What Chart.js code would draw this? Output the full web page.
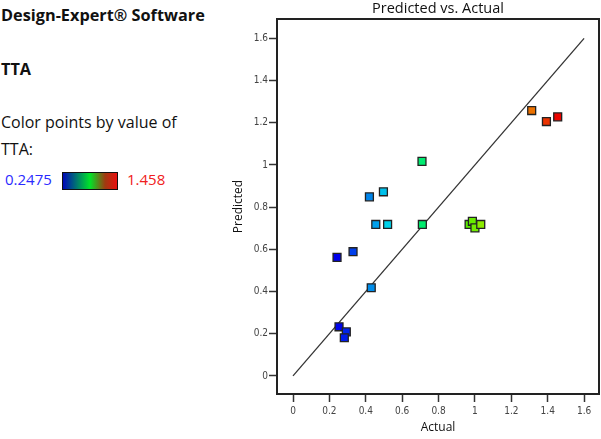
<!DOCTYPE html>
<html lang="en">
<head>
  <meta charset="UTF-8">
  <title>Predicted vs. Actual</title>
  <script src="https://cdn.jsdelivr.net/npm/chart.js"></script>
  <style>
    body { margin: 0; background: #fff; font-family: "Open Sans", sans-serif; }
    .page { position: relative; width: 601px; height: 439px; overflow: hidden; }
    .info { position: absolute; left: 0; top: 0; width: 220px; color: #111; }
    .info .t { position: absolute; left: 1px; white-space: nowrap; }
    .bold { font-weight: bold; }
    .grad { position: absolute; left: 62px; top: 172px; width: 54px; height: 16px;
            border: 1px solid #111; background: linear-gradient(to right, #0008b8, #00e428 50%, #a03a10 78%, #e81010); }
    .chart-box { position: absolute; left: 220px; top: 0; width: 381px; height: 439px; }
  </style>
</head>
<body>
<div class="page">
  <!-- left-hand info panel -->
  <div class="info">
    <div class="t bold" style="top:4px;font-size:16.3px;">Design-Expert&reg; Software</div>
    <div class="t bold" style="top:58px;font-size:16.3px;">TTA</div>
    <div class="t" style="top:111px;font-size:16px;">Color points by value of</div>
    <div class="t" style="top:138px;font-size:16px;">TTA:</div>
    <div class="t" style="top:169px;left:5px;font-size:15px;color:#2b2bff;">0.2475</div>
    <div class="grad"></div>
    <div class="t" style="top:169px;left:127px;font-size:15px;color:#f02020;">1.458</div>
  </div>

  <div class="chart-box">
    <canvas id="graph" width="381" height="439"></canvas>
  </div>
</div>

<script>
  // TTA values: actual vs. predicted
  const actual    = [0.242, 0.330, 0.430, 0.253, 0.293, 0.282, 0.455, 0.520, 0.711, 0.968, 0.986, 1.000, 1.032, 0.420, 0.497, 0.709, 1.312, 1.393, 1.455];
  const predicted = [0.562, 0.589, 0.418, 0.233, 0.209, 0.181, 0.718, 0.718, 0.718, 0.718, 0.733, 0.702, 0.718, 0.849, 0.873, 1.017, 1.258, 1.206, 1.228];
  const ttaMin = 0.2475;
  const ttaMax = 1.458;
  const tickValues = [0, 0.2, 0.4, 0.6, 0.8, 1, 1.2, 1.4, 1.6];
  const refLine = [0, 1.6];

  // colour by value of TTA: blue -> green -> red
  function colorFor(v) {
    let t = (v - ttaMin) / (ttaMax - ttaMin);
    t = Math.max(0, Math.min(1, t));
    return 'hsl(' + (240 * (1 - t)).toFixed(0) + ', 100%, 46%)';
  }

  const points = actual.map((a, i) => ({ x: a, y: predicted[i] }));
  const colors = actual.map(colorFor);

  // frame round the plot area
  const framePlugin = {
    id: 'frame',
    afterDraw(chart) {
      const a = chart.chartArea;
      const ctx = chart.ctx;
      ctx.save();
      ctx.strokeStyle = '#222';
      ctx.lineWidth = 2;
      ctx.strokeRect(a.left, a.top, a.right - a.left, a.bottom - a.top);
      ctx.restore();
    }
  };

  const tickFont = { family: "'Liberation Sans Narrow', 'DejaVu Sans Condensed', 'Liberation Sans', sans-serif", size: 10 };
  const setTicks = (s) => { s.ticks = tickValues.map(v => ({ value: v })); };
  const fmt = (v) => String(+Number(v).toFixed(2));

  new Chart(document.getElementById('graph'), {
    type: 'scatter',
    data: {
      datasets: [
        {
          type: 'line',
          data: refLine.map(v => ({ x: v, y: v })),
          borderColor: '#333',
          borderWidth: 1.3,
          pointRadius: 0,
          order: 2
        },
        {
          data: points,
          pointStyle: 'rect',
          pointRadius: 5.6,
          pointBackgroundColor: colors,
          pointBorderColor: '#222',
          pointBorderWidth: 1.3,
          order: 1
        }
      ]
    },
    options: {
      responsive: false,
      animation: false,
      layout: { autoPadding: false, padding: { left: 0, right: 2, top: 0, bottom: 0 } },
      plugins: {
        legend: { display: false },
        tooltip: { enabled: false },
        title: {
          display: true,
          text: 'Predicted vs. Actual',
          fullSize: false,
          color: '#111',
          font: { family: "'Open Sans', sans-serif", size: 14.5, weight: 'normal', lineHeight: 1.2 },
          padding: { top: 0, bottom: 1.6 }
        }
      },
      scales: {
        x: {
          type: 'linear',
          min: -0.088,
          max: 1.682,
          afterBuildTicks: setTicks,
          afterFit: (s) => { s.height = 45; s.paddingLeft = 0; s.paddingRight = 0; },
          grid: { drawOnChartArea: false, tickLength: 8, tickColor: '#333', tickWidth: 1.5 },
          border: { display: false },
          ticks: { color: '#444', font: tickFont, padding: 3, maxRotation: 0, callback: fmt },
          title: { display: true, text: 'Actual', color: '#111',
                   font: { family: "'Open Sans', sans-serif", size: 12 }, padding: { top: 0 } }
        },
        y: {
          type: 'linear',
          min: -0.0856,
          max: 1.692,
          afterBuildTicks: setTicks,
          afterFit: (s) => { s.width = 57; s.paddingTop = 0; s.paddingBottom = 0; },
          grid: { drawOnChartArea: false, tickLength: 8, tickColor: '#333', tickWidth: 1.5 },
          border: { display: false },
          ticks: { color: '#444', font: tickFont, padding: 1, callback: fmt },
          title: { display: true, text: 'Predicted', color: '#111',
                   font: { family: "'Open Sans', sans-serif", size: 12 }, padding: { top: 11 } }
        }
      }
    },
    plugins: [framePlugin]
  });
</script>
</body>
</html>
